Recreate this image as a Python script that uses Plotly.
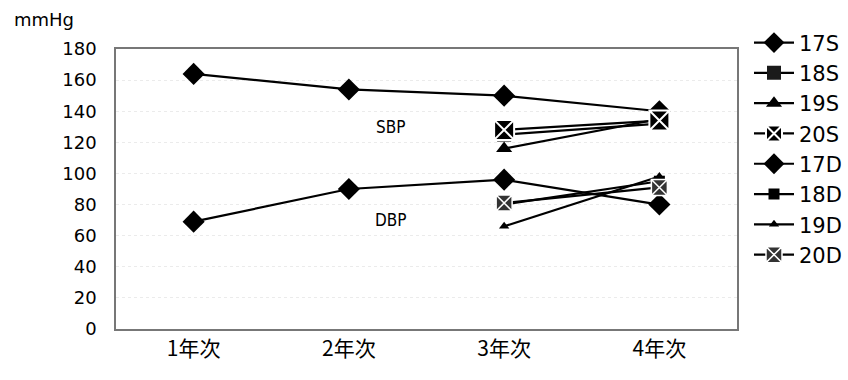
import plotly.graph_objects as go

years = ["1年次", "2年次", "3年次", "4年次"]

# Systolic blood pressure by cohort
s17 = [164, 154, 150, 140]
s18 = [None, None, 125, 132]
s19 = [None, None, 116, 135]
s20 = [None, None, 128, 134]

# Diastolic blood pressure by cohort
d17 = [69, 90, 96, 80]
d18 = [None, None, 80, 95]
d19 = [None, None, 66, 98]
d20 = [None, None, 81, 91]

y_ticks = list(range(0, 181, 20))

series = [
    ("17S", s17, "diamond", 17, "black", "black", 0),
    ("18S", s18, "square", 14, "#1a1a1a", "black", 0),
    ("19S", s19, "triangle-up", 14, "black", "black", 0),
    ("20S", s20, "square-x", 20, "black", "white", 2),
    ("17D", d17, "diamond", 17, "black", "black", 0),
    ("18D", d18, "square", 11, "black", "black", 0),
    ("19D", d19, "triangle-up", 9, "black", "black", 0),
    ("20D", d20, "square-x", 16, "#333333", "white", 1.5),
]

fig = go.Figure()
for name, vals, sym, size, col, lcol, lw in series:
    fig.add_trace(go.Scatter(
        x=years, y=vals, name=name, mode="lines+markers",
        line=dict(color="black", width=2.2),
        marker=dict(symbol=sym, size=size, color=col,
                    line=dict(color=lcol, width=lw)),
        connectgaps=False,
    ))

# paper spans x 116..848 px; the axes occupy the left part of it
W, ML, MR = 848, 116, 0
paper_w = W - ML - MR
plot_right = 737

narrow = "Liberation Sans Narrow, DejaVu Sans Condensed, Roboto Condensed, Liberation Sans"
fig.add_annotation(x=1.27, y=130, xref="x", yref="y", text="SBP", showarrow=False,
                   font=dict(family=narrow, size=17, color="black"))
fig.add_annotation(x=1.27, y=70, xref="x", yref="y", text="DBP", showarrow=False,
                   font=dict(family=narrow, size=17, color="black"))
fig.add_annotation(x=(12 - ML) / paper_w, y=1.105, xref="paper", yref="paper", text="mmHg",
                   showarrow=False, xanchor="left", yanchor="middle",
                   font=dict(family="DejaVu Sans", size=18, color="black"))

fig.update_layout(
    width=W, height=380,
    margin=dict(l=ML, r=MR, t=49, b=51),
    paper_bgcolor="white", plot_bgcolor="white",
    font=dict(family="DejaVu Sans", size=18, color="black"),
    showlegend=True,
    legend=dict(x=(749 - ML) / paper_w, y=1.095, xanchor="left", yanchor="top",
                font=dict(family="DejaVu Sans", size=21, color="black"),
                itemwidth=40, maxheight=360, tracegroupgap=0,
                bgcolor="rgba(0,0,0,0)"),
    xaxis=dict(type="category", categoryorder="array", categoryarray=years,
               domain=[0, (plot_right - ML) / paper_w],
               range=[-0.5, 3.5], showgrid=False, ticks="",
               showline=True, mirror=True, linecolor="#777777", linewidth=1.5,
               tickfont=dict(family="Noto Sans CJK JP", size=21)),
    yaxis=dict(range=[0, 180], tickvals=y_ticks, ticks="",
               showgrid=True, gridcolor="#ebebeb", griddash="dot", gridwidth=1,
               showline=True, mirror=True, linecolor="#777777", linewidth=1.5,
               zeroline=False, ticklabelstandoff=14,
               tickfont=dict(family="DejaVu Sans", size=18)),
)

fig.write_html("out.html")
